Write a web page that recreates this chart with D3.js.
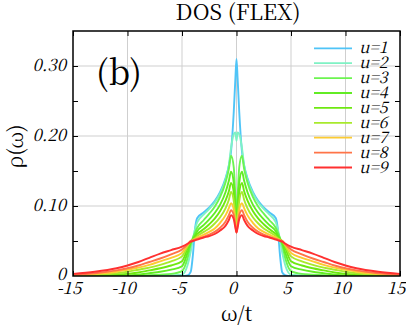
<!DOCTYPE html>
<html>
<head>
<meta charset="utf-8">
<script src="https://cdn.jsdelivr.net/npm/d3@7"></script>
<style>
  body { margin: 0; background: #fff; }
</style>
</head>
<body>
<div id="chart"></div>
<script>
// frequency grid (omega / t)
var omega = [-15,-13,-11,-10,-9,-8,-7,-6,-5,-4.5,-4.2,-4,-3.8,-3.6,-3,-2.5,-2,-1.5,-1,-0.7,-0.5,-0.25,-0.1,0,
             0.1,0.25,0.5,0.7,1,1.5,2,2.5,3,3.6,3.8,4,4.2,4.5,5,6,7,8,9,10,11,13,15];

var dosU1 = [0,0,0,0,0,0,0,0,0,0.001,0.006,0.03,0.068,0.083,0.091,0.098,0.107,0.12,0.14,0.158,0.178,0.235,0.283,0.31,
             0.283,0.235,0.178,0.158,0.14,0.12,0.107,0.098,0.091,0.083,0.066,0.028,0.005,0.001,0,0,0,0,0,0,0,0,0];
var dosU2 = [0,0,0,0,0,0,0,0.001,0.002,0.015,0.035,0.052,0.067,0.077,0.088,0.096,0.105,0.118,0.138,0.158,0.183,0.203,0.205,0.193,
             0.205,0.203,0.183,0.158,0.138,0.118,0.105,0.096,0.088,0.077,0.066,0.05,0.033,0.014,0.002,0.001,0,0,0,0,0,0,0];
var dosU3 = [0,0,0,0,0,0.001,0.002,0.003,0.007,0.025,0.045,0.055,0.062,0.069,0.08,0.089,0.099,0.113,0.134,0.153,0.172,0.155,0.112,0.087,
             0.112,0.155,0.172,0.153,0.134,0.113,0.099,0.089,0.08,0.069,0.062,0.054,0.044,0.024,0.007,0.003,0.002,0.001,0,0,0,0,0];
var dosU4 = [0,0,0.001,0.001,0.002,0.004,0.006,0.009,0.014,0.033,0.048,0.053,0.058,0.064,0.073,0.081,0.09,0.102,0.12,0.136,0.149,0.133,0.1,0.079,
             0.1,0.133,0.149,0.136,0.12,0.102,0.09,0.081,0.073,0.064,0.058,0.053,0.047,0.032,0.014,0.009,0.006,0.004,0.002,0.001,0.001,0,0];
var dosU5 = [0,0.001,0.002,0.003,0.005,0.008,0.011,0.015,0.021,0.039,0.049,0.052,0.056,0.06,0.067,0.074,0.082,0.093,0.108,0.121,0.133,0.119,0.091,0.073,
             0.091,0.119,0.133,0.121,0.108,0.093,0.082,0.074,0.067,0.06,0.056,0.052,0.049,0.039,0.021,0.015,0.011,0.008,0.005,0.003,0.002,0.001,0];
var dosU6 = [0.001,0.002,0.004,0.006,0.009,0.012,0.016,0.021,0.028,0.042,0.05,0.052,0.054,0.057,0.063,0.068,0.075,0.084,0.097,0.109,0.12,0.107,0.084,0.067,
             0.084,0.107,0.12,0.109,0.097,0.084,0.075,0.068,0.063,0.057,0.054,0.052,0.05,0.042,0.028,0.021,0.016,0.012,0.009,0.006,0.004,0.002,0.001];
var dosU7 = [0.001,0.003,0.006,0.009,0.012,0.016,0.021,0.026,0.033,0.044,0.05,0.051,0.053,0.055,0.059,0.063,0.068,0.076,0.087,0.097,0.104,0.095,0.076,0.063,
             0.076,0.095,0.104,0.097,0.087,0.076,0.068,0.063,0.059,0.055,0.053,0.051,0.05,0.044,0.033,0.026,0.021,0.016,0.012,0.009,0.006,0.003,0.001];
var dosU8 = [0.002,0.004,0.008,0.011,0.015,0.02,0.025,0.031,0.038,0.045,0.05,0.051,0.052,0.053,0.056,0.059,0.063,0.069,0.078,0.087,0.094,0.087,0.072,0.062,
             0.072,0.087,0.094,0.087,0.078,0.069,0.063,0.059,0.056,0.053,0.052,0.051,0.05,0.045,0.038,0.031,0.025,0.02,0.015,0.011,0.008,0.004,0.002];
var dosU9 = [0.003,0.006,0.011,0.015,0.02,0.026,0.032,0.037,0.042,0.046,0.049,0.05,0.051,0.052,0.055,0.057,0.06,0.065,0.072,0.08,0.087,0.081,0.069,0.062,
             0.069,0.081,0.087,0.08,0.072,0.065,0.06,0.057,0.055,0.052,0.051,0.05,0.049,0.046,0.042,0.037,0.032,0.026,0.02,0.015,0.011,0.006,0.003];

var seriesNames = ["u=1","u=2","u=3","u=4","u=5","u=6","u=7","u=8","u=9"];
var seriesColors = ["#4fc4f7","#7ff2c4","#6cf450","#62ec24","#6ee810","#a8ea2c","#fccb32","#ff7448","#ff3030"];
var seriesData = [dosU1, dosU2, dosU3, dosU4, dosU5, dosU6, dosU7, dosU8, dosU9];

var xTicks = [-15,-10,-5,0,5,10,15];
var yTicks = [0, 0.1, 0.2, 0.3];
var yMinor = [0.05, 0.1, 0.15, 0.2, 0.25, 0.3];

var serif = "'Noto Serif CJK SC', 'Noto Serif CJK JP', serif";

var width = 406, height = 326;
var margin = {top: 31, right: 6, bottom: 50, left: 73};

var svg = d3.select("#chart")
    .append("svg")
    .attr("width", width)
    .attr("height", height);

var x = d3.scaleLinear()
    .domain([-15, 15])
    .range([margin.left, width - margin.right]);

var y = d3.scaleLinear()
    .domain([0, 0.35])
    .range([height - margin.bottom, margin.top]);

// grid
svg.append("g")
    .selectAll("line")
    .data([-10,-5,0,5,10])
  .enter().append("line")
    .attr("x1", function(d) { return x(d); })
    .attr("x2", function(d) { return x(d); })
    .attr("y1", y(0))
    .attr("y2", y(0.35))
    .attr("stroke", "#cfcfcf")
    .attr("stroke-width", 1);

svg.append("g")
    .selectAll("line")
    .data([0.1, 0.2, 0.3])
  .enter().append("line")
    .attr("x1", x(-15))
    .attr("x2", x(15))
    .attr("y1", function(d) { return y(d); })
    .attr("y2", function(d) { return y(d); })
    .attr("stroke", "#cfcfcf")
    .attr("stroke-width", 1);

// curves
svg.append("clipPath")
    .attr("id", "clip")
  .append("rect")
    .attr("x", x(-15))
    .attr("y", y(0.35))
    .attr("width", x(15) - x(-15))
    .attr("height", y(0) - y(0.35));

var line = d3.line()
    .x(function(d, i) { return x(omega[i]); })
    .y(function(d) { return y(d); })
    .curve(d3.curveMonotoneX);

svg.append("g")
    .attr("clip-path", "url(#clip)")
  .selectAll("path")
    .data(seriesData)
  .enter().append("path")
    .attr("d", line)
    .attr("fill", "none")
    .attr("stroke", function(d, i) { return seriesColors[i]; })
    .attr("stroke-width", 1.9);

// ticks pointing inward on all four sides
var axisBottom = d3.axisBottom(x).tickValues(xTicks).tickSizeInner(-5).tickSizeOuter(0).tickFormat("");
var axisTop = d3.axisTop(x).tickValues(xTicks).tickSizeInner(-5).tickSizeOuter(0).tickFormat("");
var axisLeft = d3.axisLeft(y).tickValues(yMinor).tickSizeInner(-5).tickSizeOuter(0).tickFormat("");
var axisRight = d3.axisRight(y).tickValues(yMinor).tickSizeInner(-5).tickSizeOuter(0).tickFormat("");

svg.append("g").attr("transform", "translate(0," + y(0) + ")").call(axisBottom);
svg.append("g").attr("transform", "translate(0," + y(0.35) + ")").call(axisTop);
svg.append("g").attr("transform", "translate(" + x(-15) + ",0)").call(axisLeft);
svg.append("g").attr("transform", "translate(" + x(15) + ",0)").call(axisRight);

svg.selectAll(".domain").remove();
svg.selectAll(".tick line").attr("stroke", "#000").attr("stroke-width", 1);

// tick labels
svg.append("g")
    .selectAll("text")
    .data(xTicks)
  .enter().append("text")
    .attr("x", function(d) { return x(d) - 4; })
    .attr("y", 294)
    .attr("text-anchor", "middle")
    .style("font-family", serif)
    .style("font-style", "italic")
    .style("font-size", "17px")
    .text(function(d) { return d; });

svg.append("g")
    .selectAll("text")
    .data(yTicks)
  .enter().append("text")
    .attr("x", x(-15) - 7)
    .attr("y", function(d) { return y(d) + (d === 0 ? 4 : 5); })
    .attr("text-anchor", "end")
    .style("font-family", serif)
    .style("font-style", "italic")
    .style("font-size", "17px")
    .text(function(d) { return d === 0 ? "0" : d3.format(".2f")(d); });

// frame
svg.append("rect")
    .attr("x", x(-15))
    .attr("y", y(0.35))
    .attr("width", x(15) - x(-15))
    .attr("height", y(0) - y(0.35))
    .attr("fill", "none")
    .attr("stroke", "#000")
    .attr("stroke-width", 1.5);

// titles
svg.append("text")
    .attr("x", 238)
    .attr("y", 20)
    .attr("text-anchor", "middle")
    .style("font-family", serif)
    .style("font-size", "22px")
    .text("DOS (FLEX)");

svg.append("text")
    .attr("x", x(0))
    .attr("y", 321)
    .attr("text-anchor", "middle")
    .style("font-family", serif)
    .style("font-size", "21px")
    .text("ω/t");

svg.append("text")
    .attr("transform", "translate(23," + y(0.185) + ") rotate(-90)")
    .attr("text-anchor", "middle")
    .style("font-family", serif)
    .style("font-size", "21px")
    .text("ρ(ω)");

svg.append("text")
    .attr("x", 96)
    .attr("y", 85)
    .style("font-family", serif)
    .style("font-size", "34px")
    .text("(b)");

// legend
var legend = svg.append("g")
  .selectAll("g")
    .data(seriesNames)
  .enter().append("g")
    .attr("transform", function(d, i) { return "translate(314," + (48.3 + i * 14.9) + ")"; });

legend.append("line")
    .attr("x1", 0)
    .attr("x2", 38)
    .attr("stroke", function(d, i) { return seriesColors[i]; })
    .attr("stroke-width", 1.8);

legend.append("text")
    .attr("x", 45)
    .attr("y", 5)
    .style("font-family", serif)
    .style("font-style", "italic")
    .style("font-size", "16px")
    .text(function(d) { return d; });
</script>
</body>
</html>
